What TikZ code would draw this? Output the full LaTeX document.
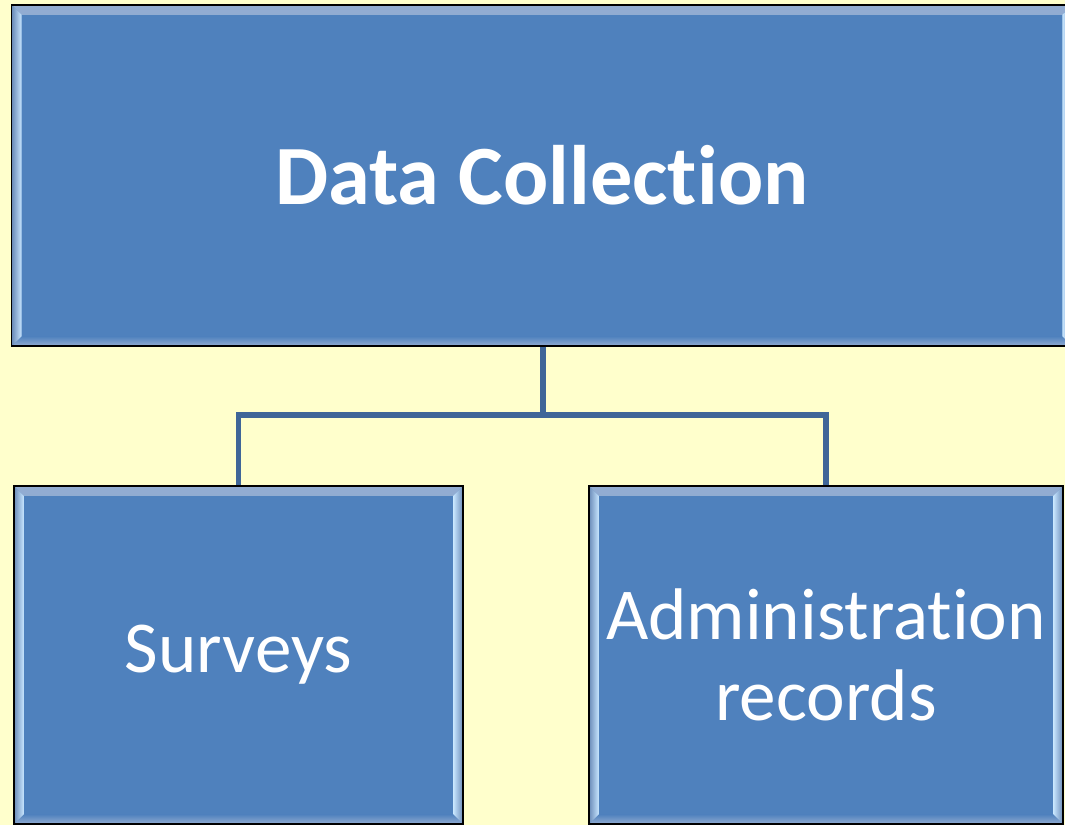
\documentclass[tikz,border=0pt]{standalone}
\usepackage{fontspec}
\setmainfont[Ligatures=NoCommon]{Carlito}
\usetikzlibrary{positioning}

\definecolor{bgyellow}{HTML}{FFFFCC}
\definecolor{boxblue}{HTML}{4F81BD}
\definecolor{linkblue}{HTML}{3F6698}
\definecolor{bevlight}{HTML}{C8E6FF}
\definecolor{bevdark}{HTML}{6A8BB8}
\definecolor{bevtop}{HTML}{93ADD2}

\newcommand{\bev}{7pt}

\tikzset{
  bevelbox/.style={draw=black, line width=0.9pt, fill=boxblue, text=white,
    inner sep=0pt, align=center,
    path picture={
      % top and bottom bands
      \shade[top color=bevtop, bottom color=boxblue]
        (path picture bounding box.north west)
        -- (path picture bounding box.north east)
        -- ([xshift=-\bev,yshift=-\bev]path picture bounding box.north east)
        -- ([xshift=\bev,yshift=-\bev]path picture bounding box.north west) -- cycle;
      \shade[top color=boxblue, bottom color=bevtop]
        (path picture bounding box.south west)
        -- (path picture bounding box.south east)
        -- ([xshift=-\bev,yshift=\bev]path picture bounding box.south east)
        -- ([xshift=\bev,yshift=\bev]path picture bounding box.south west) -- cycle;
      % light side strips
      \shade[left color=bevdark, right color=bevlight]
        (path picture bounding box.north west)
        -- ([xshift=\bev,yshift=-\bev]path picture bounding box.north west)
        -- ([xshift=\bev,yshift=\bev]path picture bounding box.south west)
        -- (path picture bounding box.south west) -- cycle;
      \shade[left color=bevlight, right color=bevdark]
        (path picture bounding box.north east)
        -- ([xshift=-\bev,yshift=-\bev]path picture bounding box.north east)
        -- ([xshift=-\bev,yshift=\bev]path picture bounding box.south east)
        -- (path picture bounding box.south east) -- cycle;
    }},
  link/.style={draw=linkblue, line width=3.6pt}
}

\begin{document}
\begin{tikzpicture}[x=0.025cm, y=-0.025cm]
  \fill[bgyellow] (0,0) rectangle (1065,825);
  \useasboundingbox (0,0) rectangle (1065,825);

  \node[bevelbox, minimum width=26.5cm, minimum height=8.525cm,
        font=\fontsize{60}{66}\selectfont\bfseries] (dc) at (542,175.5) {Data Collection};
  \node[bevelbox, minimum width=11.225cm, minimum height=8.45cm,
        font=\fontsize{52}{58}\selectfont] (surveys) at (238.5,655) {Surveys};
  \node[bevelbox, minimum width=11.85cm, minimum height=8.45cm,
        font=\fontsize{52}{58}\selectfont] (admin) at (826,655) {Administration\\records};

  \coordinate (split) at (543,415);
  \draw[link] (dc.south -| split) -- (split);
  \draw[link] (split) -| (surveys.north);
  \draw[link] (split) -| (admin.north);
\end{tikzpicture}
\end{document}
